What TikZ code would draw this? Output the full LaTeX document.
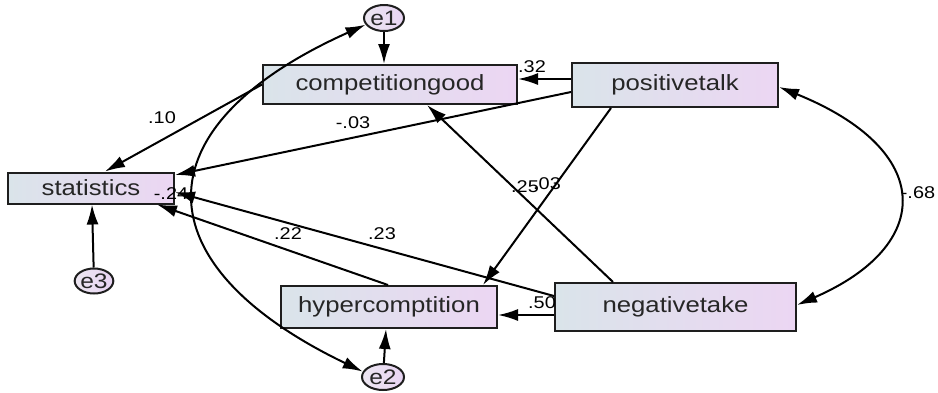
\documentclass[tikz,border=0pt]{standalone}
\usepackage{fontspec}
\setmainfont{Liberation Sans}[FakeStretch=1.17]
\usetikzlibrary{arrows.meta,calc,shapes.geometric}
\definecolor{boxl}{RGB}{218,228,234}
\definecolor{boxr}{RGB}{236,214,243}
\definecolor{errl}{RGB}{236,230,241}
\definecolor{errr}{RGB}{232,212,243}
\definecolor{edgec}{RGB}{30,30,30}
\begin{document}
\begin{tikzpicture}[x=1pt,y=-1pt,
  box/.style={draw=edgec, line width=2pt, left color=boxl, right color=boxr, inner sep=0pt,
              font=\fontsize{22}{24}\selectfont, text=black!85},
  err/.style={ellipse, draw=edgec, line width=2pt, left color=errl, right color=errr, inner sep=0pt,
              minimum width=40pt, minimum height=26pt, font=\fontsize{21}{22}\selectfont, text=black!85},
  lab/.style={font=\fontsize{17}{18}\selectfont, inner sep=0pt},
  arr/.style={-{Latex[length=20pt,width=12pt]}, line width=2pt},
  darr/.style={{Latex[length=20pt,width=12pt]}-{Latex[length=20pt,width=12pt]}, line width=2pt}]
\useasboundingbox[fill=white] (0,0) rectangle (938,392);

% boxes
\node[box, minimum width=166pt, minimum height=31pt] (stat) at (91,188) {statistics};
\node[box, minimum width=254pt, minimum height=39pt] (cg) at (390,84.5) {competitiongood};
\node[box, minimum width=206pt, minimum height=44pt] (pt) at (675,85) {positivetalk};
\node[box, minimum width=216pt, minimum height=42pt] (hc) at (389,307) {hypercomptition};
\node[box, minimum width=241pt, minimum height=48pt] (nt) at (675.5,307) {negativetake};

% error terms
\node[err] (e1) at (384,18) {e1};
\node[err, minimum width=42pt] (e2) at (383,377) {e2};
\node[err, minimum width=38pt, minimum height=25pt] (e3) at (94,281) {e3};

% label partly hidden by arrowheads
\node[lab] (l24) at (171,194) {-.24};

% error arrows
\draw[arr] (e1) -- (e1 |- cg.north);
\draw[arr] (e2) -- ($(hc.south)+(-3,0)$);
\draw[arr] (e3) -- ($(stat.south)+(1,0)$);

% covariances
\draw[darr] (e1.200) .. controls (137,127) and (141,265) .. (e2.165);
\draw[darr] ($(pt.east)+(0,2)$) .. controls (935,150) and (935,245) .. ($(nt.east)+(0,-2)$);

% regression paths
\draw[arr] ($(pt.west)+(0,-6)$) -- ($(cg.east)+(0,-5.5)$);
\draw[arr] ($(pt.west)+(0,7)$) -- ($(stat.east)+(0,-13)$);
\draw[arr] (cg.west) -- ($(stat.north)+(14,0)$);
\draw[arr] ($(nt.north)+(-62.5,0)$) -- ($(cg.south)+(37,0)$);
\draw[arr] ($(pt.south)+(-64,0)$) -- ($(hc.north)+(94,0)$);
\draw[arr] ($(nt.west)+(0,8)$) -- ($(hc.east)+(0,8)$);
\draw[arr] ($(nt.west)+(0,-11)$) -- ($(stat.east)+(0,4)$);
\draw[arr] ($(hc.north)+(-1,0)$) -- ($(stat.south)+(66,0)$);

% labels
\node[lab] (l10) at (162,118) {.10};
\node[lab] (l03a) at (353,123) {-.03};
\node[lab] (l32) at (532,67) {.32};
\node[lab] (l25) at (525,187) {.25};
\node[lab] (l03b) at (547,184) {.03};
\node[lab] (l22) at (288,234) {.22};
\node[lab] (l23) at (382,234) {.23};
\node[lab] (l50) at (542,303) {.50};
\node[lab] (l68) at (918,193) {-.68};
\end{tikzpicture}
\end{document}
